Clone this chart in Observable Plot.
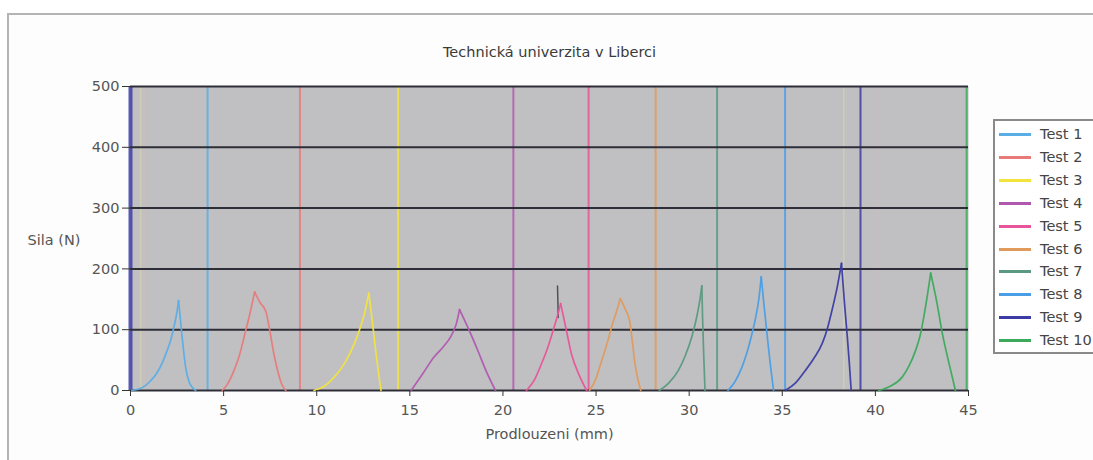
<!DOCTYPE html>
<html>
<head>
<meta charset="utf-8">
<script src="https://cdn.jsdelivr.net/npm/d3@7"></script>
<script src="https://cdn.jsdelivr.net/npm/@observablehq/plot@0.6"></script>
<style>
  html, body { margin: 0; padding: 0; background: #ffffff; }
  #wrap { position: relative; width: 1093px; height: 460px; overflow: hidden; font-family: "DejaVu Sans", Verdana, sans-serif; }
  #frame { position: absolute; left: 7px; top: 13px; width: 1200px; height: 600px; border-left: 2px solid #b4b4b4; border-top: 2px solid #b4b4b4; background: #fdfdfd; }
  #chart { position: absolute; left: 0; top: 0; }
  #legend { position: absolute; left: 993px; top: 119px; width: 130px; height: 231px; border: 2px solid #8a8a8a; background: #ffffff; }
  .item { position: absolute; left: 4px; height: 18px; font-size: 14.5px; color: #444; line-height: 18px; white-space: nowrap; }
  .swatch { position: absolute; left: 0; top: 8px; width: 32px; height: 3px; }
  .lab { position: absolute; left: 41px; top: 0; }
</style>
</head>
<body>
<div id="wrap">
  <div id="frame"></div>
  <div id="chart"></div>
  <div id="legend"></div>
</div>
<script>
// ---- data ----
const tests = ["Test 1","Test 2","Test 3","Test 4","Test 5","Test 6","Test 7","Test 8","Test 9","Test 10"];
const colors = ["#5aaee6","#e87a7a","#f2e43c","#b058b0","#e8559a","#e09a5c","#5a9a80","#4a9ee6","#3c3ca4","#3caa5c"];

const t1x = [0, 0.4, 0.8, 1.08, 1.4, 1.7, 1.97, 2.15, 2.33, 2.47, 2.58, 2.75, 2.96, 3.15, 3.35, 3.5];
const t1y = [0, 2, 8, 16, 28, 45, 66, 82, 104, 125, 148, 95, 38, 14, 4, 0];
const t2x = [4.93, 5.2, 5.56, 5.85, 6.1, 6.4, 6.67, 6.95, 7.27, 7.5, 7.7, 7.9, 8.1, 8.34];
const t2y = [0, 10, 33, 58, 88, 125, 162, 145, 130, 95, 60, 33, 12, 0];
const t3x = [9.85, 10.4, 10.94, 11.5, 12.02, 12.3, 12.56, 12.8, 13.0, 13.19, 13.45];
const t3y = [0, 7, 22, 45, 77, 100, 126, 160, 110, 60, 0];
const t4x = [15.07, 15.7, 16.3, 16.8, 17.22, 17.5, 17.67, 18.2, 18.66, 19.1, 19.6];
const t4y = [0, 28, 55, 72, 90, 110, 133, 98, 65, 32, 0];
const t5x = [21.26, 21.7, 22.07, 22.4, 22.7, 22.92, 23.1, 23.4, 23.68, 24.1, 24.5];
const t5y = [0, 18, 44, 70, 99, 122, 143, 100, 60, 25, 0];
const spikeX = [22.97, 22.93];
const spikeY = [120, 172];
const t6x = [24.65, 25.0, 25.3, 25.6, 25.83, 26.1, 26.3, 26.55, 26.82, 26.95, 27.09, 27.25, 27.4];
const t6y = [0, 20, 49, 78, 104, 130, 151, 135, 112, 80, 44, 18, 0];
const t7x = [28.4, 28.9, 29.42, 29.8, 30.14, 30.4, 30.58, 30.68, 30.72, 30.78, 30.85];
const t7y = [0, 12, 33, 58, 88, 120, 150, 172, 120, 60, 0];
const t8x = [32.08, 32.45, 32.83, 33.1, 33.37, 33.57, 33.73, 33.87, 34.02, 34.18, 34.35, 34.53];
const t8y = [0, 14, 38, 62, 93, 120, 148, 187, 140, 93, 45, 0];
const t9x = [35.16, 35.7, 36.24, 36.7, 37.14, 37.45, 37.67, 37.95, 38.18, 38.35, 38.48, 38.6, 38.7];
const t9y = [0, 12, 33, 53, 77, 105, 132, 170, 209, 140, 93, 45, 0];
const t10x = [40.18, 40.8, 41.44, 41.8, 42.16, 42.4, 42.6, 42.8, 42.97, 43.3, 43.6, 43.95, 44.3];
const t10y = [0, 7, 22, 40, 66, 90, 121, 158, 193, 145, 93, 45, 0];

// rupture (vertical) lines, one per test, plus the start line of Test 9
const ruptureX = [4.14, 9.1, 14.37, 20.56, 24.6, 28.2, 31.5, 35.15, 39.2, 44.9];
const startLineX = [0];
const faintX = [0.55, 0.8, 38.3, 40.0];
const faintColors = ["#e8e09a", "#e8b0b0", "#e8e09a", "#e8b0c8"];

const xTicks = [0, 5, 10, 15, 20, 25, 30, 35, 40, 45];
const yTicks = [0, 100, 200, 300, 400, 500];

const titleText = "Technická univerzita v Liberci";
const xLabel = "Prodlouzeni (mm)";
const yLabel = "Sila (N)";

// ---- build table: each test split at its peak into a loading and an unloading segment ----
const xs = [t1x,t2x,t3x,t4x,t5x,t6x,t7x,t8x,t9x,t10x];
const ys = [t1y,t2y,t3y,t4y,t5y,t6y,t7y,t8y,t9y,t10y];
const rows = [];
tests.forEach((t, i) => {
  const peak = d3.maxIndex(ys[i]);
  xs[i].forEach((x, j) => {
    if (j <= peak) rows.push({test: t, seg: t + "-up", x, y: ys[i][j]});
    if (j >= peak) rows.push({test: t, seg: t + "-down", x, y: ys[i][j]});
  });
});
const spike = spikeX.map((x, i) => ({x, y: spikeY[i]}));
const rupt = ruptureX.map((x, i) => ({x, test: tests[i]}));

const plot = Plot.plot({
  width: 1093,
  height: 460,
  marginLeft: 130,
  marginRight: 125,
  marginTop: 86,
  marginBottom: 70,
  style: {background: "transparent", fontFamily: "DejaVu Sans, Verdana, sans-serif", fontSize: "14px", color: "#444"},
  x: {domain: [0, 45], ticks: xTicks, label: null},
  y: {domain: [0, 500], ticks: yTicks, label: null},
  color: {domain: tests, range: colors},
  marks: [
    Plot.frame({fill: "#c0c0c2", stroke: null}),
    Plot.ruleX(faintX, {x: d => d, stroke: (d, i) => faintColors[i], strokeWidth: 1.5, strokeOpacity: 0.4}),
    Plot.ruleX(rupt, {x: "x", stroke: "test", strokeWidth: 2, strokeOpacity: 0.85}),
    Plot.ruleX(startLineX, {x: d => d, stroke: colors[8], strokeWidth: 4, strokeOpacity: 0.85}),
    Plot.ruleY(yTicks, {y: d => d, stroke: "#2e2e38", strokeWidth: 2}),
    Plot.line(spike, {x: "x", y: "y", stroke: "#505058", strokeWidth: 1.5}),
    Plot.line(rows, {x: "x", y: "y", z: "seg", stroke: "test", strokeWidth: 1.7, strokeOpacity: 0.95, curve: "monotone-x"}),
    Plot.axisX({ticks: xTicks, tickSize: 6, tickPadding: 8, fontSize: 14.5, stroke: "#333", fill: "#555", label: null}),
    Plot.axisY({ticks: yTicks, tickSize: 8, tickPadding: 3, fontSize: 14.5, stroke: "#333", fill: "#555", label: null}),
    Plot.text([titleText], {frameAnchor: "top", dy: -40, text: d => d, fontSize: 14.5, fill: "#3a3a3a"}),
    Plot.text([xLabel], {frameAnchor: "bottom", dy: 48, text: d => d, fontSize: 14.5, fill: "#555"}),
    Plot.text([yLabel], {frameAnchor: "left", dx: -103, dy: 2, textAnchor: "start", text: d => d, fontSize: 14.5, fill: "#555"})
  ]
});
document.getElementById("chart").appendChild(plot);

// legend
const leg = document.getElementById("legend");
tests.forEach((t, i) => {
  const it = document.createElement("div");
  it.className = "item";
  it.style.top = (4 + i * 22.9) + "px";
  const sw = document.createElement("div");
  sw.className = "swatch";
  sw.style.background = colors[i];
  const lb = document.createElement("span");
  lb.className = "lab";
  lb.textContent = t;
  it.appendChild(sw); it.appendChild(lb);
  leg.appendChild(it);
});
</script>
</body>
</html>
